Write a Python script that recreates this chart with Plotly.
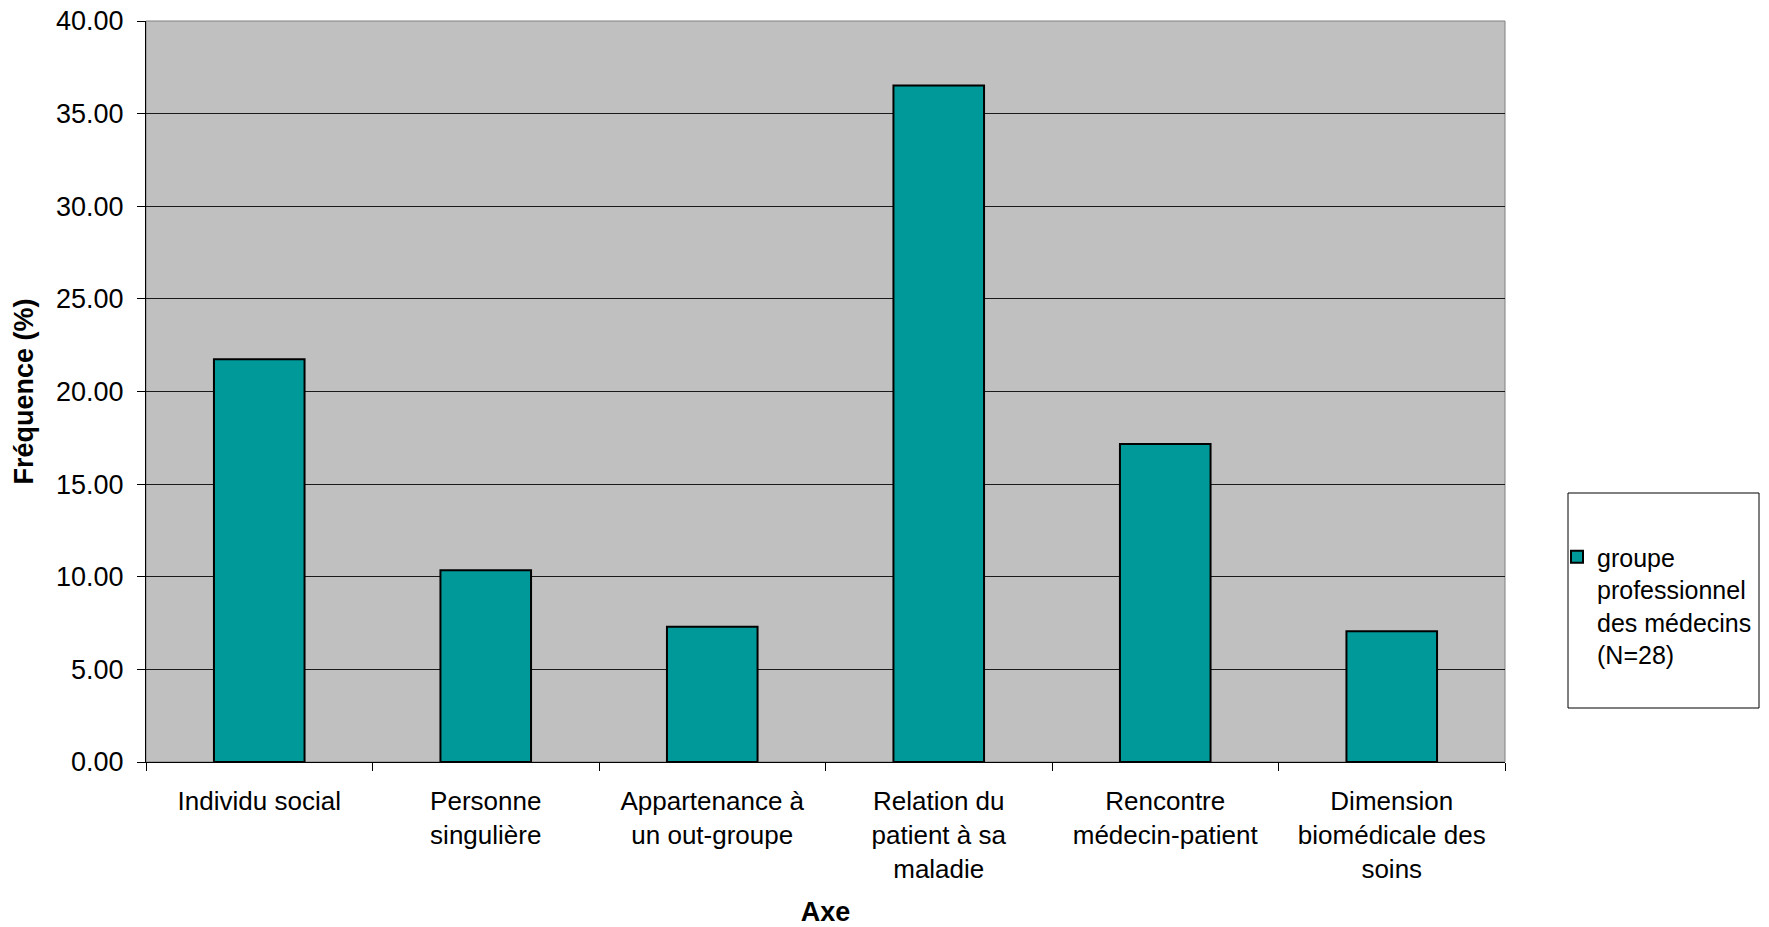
import plotly.graph_objects as go

# Categories (axes of analysis) and frequency values (%)
categories = [
    "Individu social",
    "Personne<br>singulière",
    "Appartenance à<br>un out-groupe",
    "Relation du<br>patient à sa<br>maladie",
    "Rencontre<br>médecin-patient",
    "Dimension<br>biomédicale des<br>soins",
]
frequences = [21.74, 10.35, 7.30, 36.52, 17.17, 7.06]
serie_nom = "groupe<br>professionnel<br>des médecins<br>(N=28)"

y_ticks = [0, 5, 10, 15, 20, 25, 30, 35, 40]

FONT = "Liberation Sans, Arial, sans-serif"
W, H = 1769, 927
L, R, T, B = 146, 264, 21, 165

fig = go.Figure()
fig.add_trace(go.Bar(
    x=categories,
    y=frequences,
    name=serie_nom,
    width=0.4,
    marker=dict(color="#009999", line=dict(color="#000000", width=2)),
))

fig.update_layout(
    width=W, height=H,
    margin=dict(l=L, r=R, t=T, b=B, pad=0, autoexpand=False),
    paper_bgcolor="#ffffff",
    plot_bgcolor="#c0c0c0",
    font=dict(family=FONT, size=26, color="#000000"),
    showlegend=True,
    legend=dict(
        x=(1557 - L) / (W - L - R), xanchor="left",
        y=1 - (534 - T) / (H - T - B), yanchor="top",
        bgcolor="rgba(0,0,0,0)",
        borderwidth=0,
        valign="top",
        itemwidth=30,
        font=dict(family=FONT, size=25, color="#000000"),
    ),
    xaxis=dict(
        type="category",
        automargin=False,
        showgrid=False,
        showline=True, linecolor="#000000", linewidth=1,
        ticks="outside", ticklen=8, tickcolor="#000000",
        tickson="boundaries",
        tickfont=dict(family=FONT, size=26),
        ticklabelstandoff=16,
        title=dict(text="<b>Axe</b>", font=dict(family=FONT, size=27), standoff=29),
        range=[-0.5, 5.5],
    ),
    yaxis=dict(
        range=[0, 40],
        automargin=False,
        tickvals=y_ticks,
        tickformat=".2f",
        showgrid=True, gridcolor="#1a1a1a", gridwidth=1,
        zeroline=False,
        showline=True, linecolor="#000000", linewidth=1,
        ticks="outside", ticklen=8, tickcolor="#000000",
        tickfont=dict(family=FONT, size=27),
        ticklabelstandoff=8,
        title=dict(text="<b>Fréquence (%)</b>", font=dict(family=FONT, size=27), standoff=14),
    ),
)

# Plot-area frame and legend box
fig.add_shape(type="rect", xref="paper", yref="paper", x0=0, x1=1, y0=0, y1=1,
              line=dict(color="#808080", width=1), layer="below")
fig.add_shape(type="rect", xref="paper", yref="paper",
              x0=(1568 - L) / (W - L - R), x1=(1759 - L) / (W - L - R),
              y0=1 - (708 - T) / (H - T - B), y1=1 - (493 - T) / (H - T - B),
              line=dict(color="#000000", width=1), fillcolor="#ffffff", layer="below")

fig.write_html("out.html")
